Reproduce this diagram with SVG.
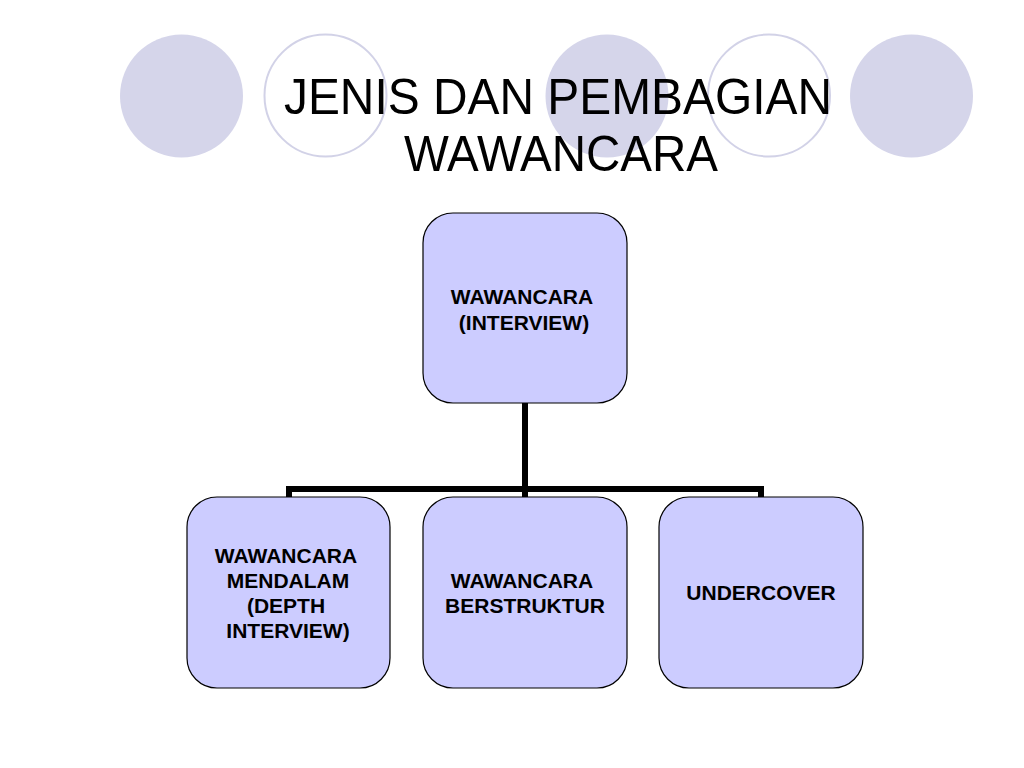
<svg xmlns="http://www.w3.org/2000/svg" width="1024" height="768" viewBox="0 0 1024 768">
<style>
.dot{fill:#d5d5ea;stroke:none}
.ring{fill:none;stroke:#d2d2e7;stroke-width:2}
.title{font-family:"Liberation Sans",Arial,sans-serif;font-size:50px;fill:#000;text-anchor:middle}
.box{fill:#ccccff;stroke:#000;stroke-width:1.2}
.lbl{font-family:"Liberation Sans",Arial,sans-serif;font-size:21px;font-weight:bold;fill:#000;text-anchor:middle}
.conn{fill:none;stroke:#000;stroke-width:6;stroke-linejoin:miter}
</style>
<rect width="1024" height="768" fill="#ffffff"/>
<g id="decor">
<circle class="dot" cx="181.5" cy="96" r="61.5"/>
<circle class="ring" cx="325.5" cy="95.5" r="61"/>
<circle class="dot" cx="607" cy="96" r="61.5"/>
<circle class="ring" cx="769" cy="95.5" r="61"/>
<circle class="dot" cx="911.5" cy="96" r="61.5"/>
</g>
<g id="title">
<text class="title" x="558" y="114" textLength="548" lengthAdjust="spacingAndGlyphs">JENIS DAN PEMBAGIAN</text>
<text class="title" x="561" y="171" textLength="314" lengthAdjust="spacingAndGlyphs">WAWANCARA</text>
</g>
<g id="connectors">
<path class="conn" d="M525 403 V497"/>
<path class="conn" d="M289 497 V489 H761 V497"/>
</g>
<g id="node-root">
<rect class="box" x="423" y="213" width="204" height="190" rx="30" ry="30"/>
<text class="lbl" x="522" y="304">WAWANCARA</text>
<text class="lbl" x="524" y="330">(INTERVIEW)</text>
</g>
<g id="node-mendalam">
<rect class="box" x="187" y="497" width="203" height="191" rx="30" ry="30"/>
<text class="lbl" x="286" y="563">WAWANCARA</text>
<text class="lbl" x="288" y="588">MENDALAM</text>
<text class="lbl" x="286" y="613">(DEPTH</text>
<text class="lbl" x="288" y="638">INTERVIEW)</text>
</g>
<g id="node-berstruktur">
<rect class="box" x="423" y="497" width="204" height="191" rx="30" ry="30"/>
<text class="lbl" x="522" y="588">WAWANCARA</text>
<text class="lbl" x="525" y="613">BERSTRUKTUR</text>
</g>
<g id="node-undercover">
<rect class="box" x="659" y="497" width="204" height="191" rx="30" ry="30"/>
<text class="lbl" x="761" y="600">UNDERCOVER</text>
</g>
</svg>
